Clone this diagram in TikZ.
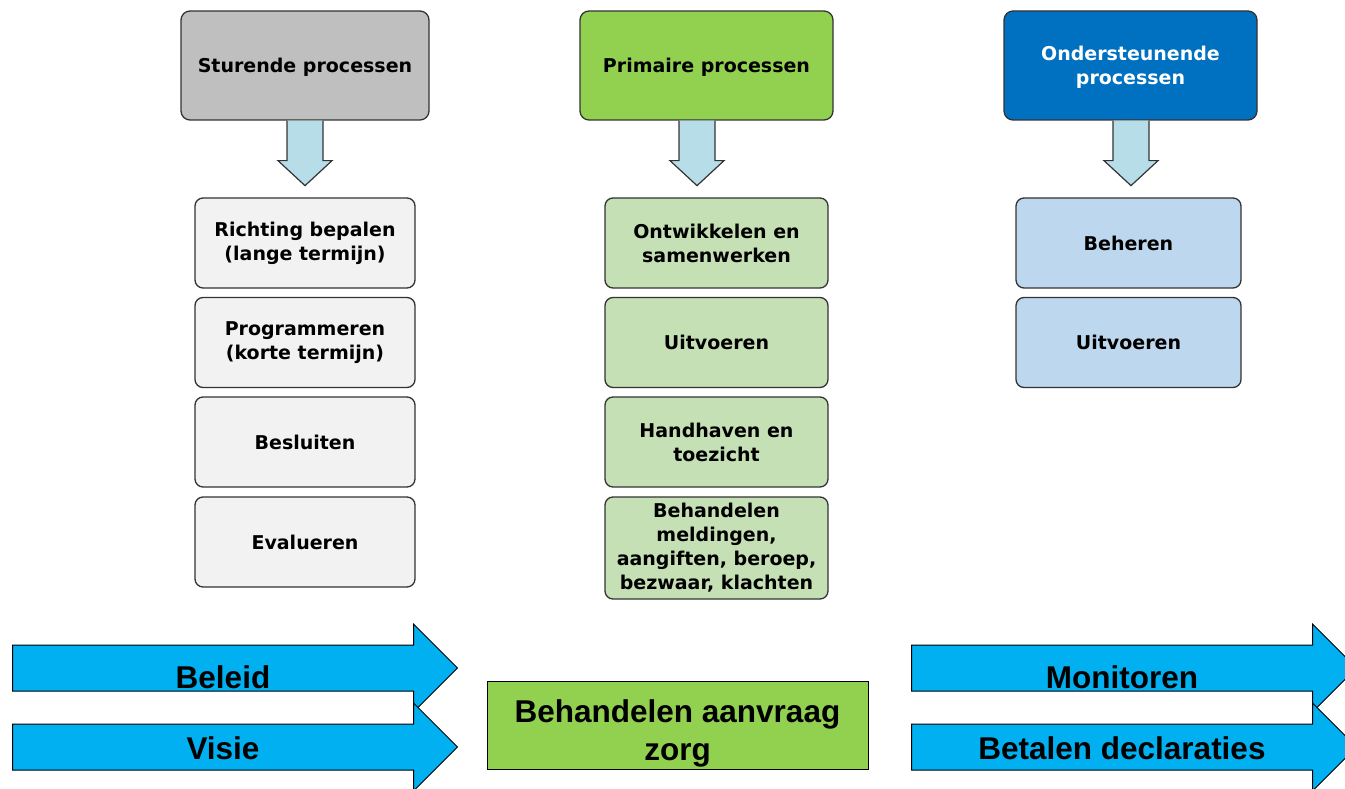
\documentclass[tikz,border=0pt]{standalone}
\usepackage{fontspec}
\usepackage{xcolor}
\newfontfamily\kopfont{DejaVu Sans}
\newfontfamily\balkfont{Liberation Sans}
\usetikzlibrary{shapes.arrows,calc}

\definecolor{stgrijs}{HTML}{BFBFBF}
\definecolor{prgroen}{HTML}{92D050}
\definecolor{ondblauw}{HTML}{0070C0}
\definecolor{lichtgrijs}{HTML}{F2F2F2}
\definecolor{lichtgroen}{HTML}{C5E0B4}
\definecolor{lichtblauw}{HTML}{BDD7EE}
\definecolor{pijlblauw}{HTML}{B7DEE8}
\definecolor{balkblauw}{HTML}{00B0F0}

\begin{document}
\begin{tikzpicture}[x=1pt,y=-1pt,
  kop/.style={draw=black!80, line width=1.3pt, rounded corners=9pt,
    minimum width=250, minimum height=109, align=center, text depth=-4pt,
    font=\kopfont\bfseries\fontsize{19}{24}\selectfont},
  stap/.style={draw=black!80, line width=1.3pt, rounded corners=8pt,
    minimum width=220, minimum height=90, align=center,
    font=\kopfont\bfseries\fontsize{19}{24}\selectfont},
  pijl/.style={draw=black!80, line width=1.2pt, fill=pijlblauw},
  balk/.style={single arrow, draw=black, line width=1pt, fill=balkblauw,
    minimum width=87, minimum height=445, single arrow head extend=21,
    single arrow head indent=0, inner xsep=0, inner ysep=22.5, anchor=tail},
  balktekst/.style={font=\balkfont\bfseries\fontsize{31.5}{38}\selectfont, align=center}
]
  % fix the page size
  \useasboundingbox (0,0) rectangle (1345,789);

  % the three headers
  \node[kop, fill=stgrijs, minimum width=248] (sturend) at (305,65.5) {Sturende processen};
  \node[kop, fill=prgroen, minimum width=253] (primair) at (706.5,65.5) {Primaire processen};
  \node[kop, fill=ondblauw, minimum width=253, text=white] (onderst) at (1130.5,65.5) {Ondersteunende\\processen};

  % sturende steps
  \node[stap, fill=lichtgrijs] (richting) at (305,243) {Richting bepalen\\(lange termijn)};
  \node[stap, fill=lichtgrijs] (programm) at (305,342.5) {Programmeren\\(korte termijn)};
  \node[stap, fill=lichtgrijs] (besluit) at (305,442) {Besluiten};
  \node[stap, fill=lichtgrijs] (evalueer) at (305,542) {Evalueren};

  % primaire steps
  \node[stap, fill=lichtgroen, minimum width=223] (ontwikkel) at (716.5,243) {Ontwikkelen en\\samenwerken};
  \node[stap, fill=lichtgroen, minimum width=223] (uitvoerp) at (716.5,342.5) {Uitvoeren};
  \node[stap, fill=lichtgroen, minimum width=223] (handhaaf) at (716.5,442) {Handhaven en\\toezicht};
  \node[stap, fill=lichtgroen, minimum width=223, minimum height=102] (meldingen) at (716.5,548) {Behandelen\\meldingen,\\aangiften, beroep,\\bezwaar, klachten};

  % ondersteunende steps
  \node[stap, fill=lichtblauw, minimum width=225] (beheer) at (1128.5,243) {Beheren};
  \node[stap, fill=lichtblauw, minimum width=225] (uitvoero) at (1128.5,342.5) {Uitvoeren};

  % block arrows down
  \draw[pijl] ($(sturend.south)+(-18,0)$) -- ++(0,40) -- ++(-9,0) -- ++(27,25)
    -- ++(27,-25) -- ++(-9,0) -- ++(0,-40);
  \draw[pijl] ($(primair.south)+(-27.5,0)$) -- ++(0,40) -- ++(-9,0) -- ++(27,25)
    -- ++(27,-25) -- ++(-9,0) -- ++(0,-40);
  \draw[pijl] ($(onderst.south)+(-17.5,0)$) -- ++(0,40) -- ++(-9,0) -- ++(27,25)
    -- ++(27,-25) -- ++(-9,0) -- ++(0,-40);

  % bottom row
  \node[balk] (beleid) at (12,668) {};
  \node[balk] (visie) at (12,747) {};
  \node[balk] (monitor) at (911,668) {};
  \node[balk] (betalen) at (911,747) {};
  \node[balktekst] (beleidtxt) at ($(beleid.tail)+(211,9)$) {Beleid};
  \node[balktekst] (visietxt) at ($(visie.tail)+(211,1)$) {Visie};
  \node[balktekst] (monitortxt) at ($(monitor.tail)+(211,9)$) {Monitoren};
  \node[balktekst] (betalentxt) at ($(betalen.tail)+(211,1)$) {Betalen declaraties};

  \node[draw=black, line width=1pt, fill=prgroen, minimum width=381, minimum height=88]
    (aanvraag) at (677.5,725) {};
  \node[balktekst] (aanvraagtxt) at ($(aanvraag.center)+(0,8)$) {Behandelen aanvraag\\zorg};
\end{tikzpicture}
\end{document}
